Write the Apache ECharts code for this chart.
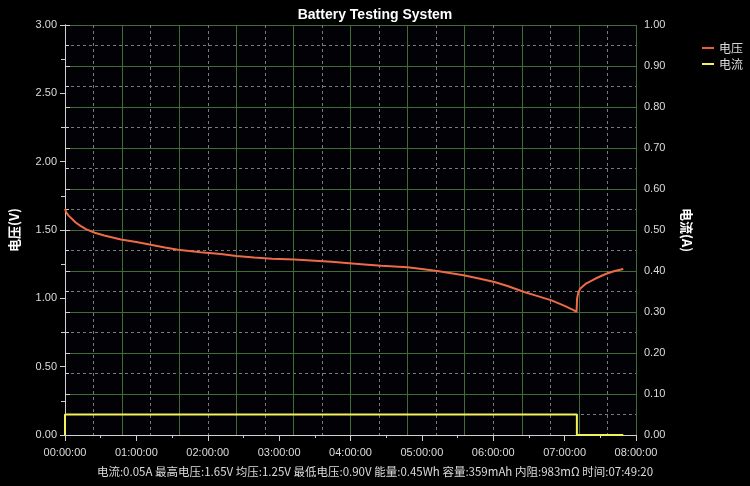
<!DOCTYPE html>
<html><head><meta charset="utf-8">
<script src="https://cdn.jsdelivr.net/npm/echarts@6/dist/echarts.min.js"></script>
<style>html,body{margin:0;padding:0;background:#000;}#c{width:750px;height:486px;}</style>
</head><body><div id="c"></div>
<script>
// time in minutes
const voltTime = [0,1,3,6,9,13,18,25,33,47,60,72,84,95,114,131,144,159,174,193,210,224,249,266,288,300,313,335,348,361,372,386,396,409,420,428,430,430.5,431.4,433,438,446,455,462,469.33];
const voltVals = [1.655,1.63,1.605,1.58,1.555,1.53,1.505,1.48,1.46,1.43,1.412,1.392,1.372,1.355,1.337,1.324,1.31,1.299,1.29,1.284,1.275,1.267,1.25,1.238,1.228,1.215,1.20,1.169,1.145,1.12,1.09,1.046,1.02,0.985,0.945,0.912,0.90,1.0,1.04,1.07,1.108,1.145,1.18,1.20,1.215];
const currTime = [0,0,430.3,430.3,469.33];
const currVals = [0,0.05,0.05,0,0];
const title = 'Battery Testing System';
const summary = '电流:0.05A 最高电压:1.65V 均压:1.25V 最低电压:0.90V 能量:0.45Wh 容量:359mAh 内阻:983mΩ 时间:07:49:20';

const pad = n => String(n).padStart(2,'0');
const fmt = m => pad(Math.floor(m/60)) + ':' + pad(Math.round(m%60)) + ':00';
const txt = '#dcdcdc';
const font = 'Liberation Sans, Arial, sans-serif';
const gridGreen = '#3e6e34';
const gridDash = '#7a7a7a';

const chart = echarts.init(document.getElementById('c'));
chart.setOption({
  backgroundColor: '#000',
  animation: false,
  title: {text: title, left: 'center', top: 3, textStyle: {color: '#fff', fontSize: 14, fontWeight: 'bold', fontFamily: font}},
  legend: {orient: 'vertical', left: 697, top: 37, itemWidth: 12, itemHeight: 2, itemGap: 4,
    textStyle: {color: txt, fontSize: 12, fontFamily: 'Noto Sans CJK SC'},
    data: [{name:'电压', icon:'rect'}, {name:'电流', icon:'rect'}]},
  grid: {left: 64, right: 114, top: 25, bottom: 51, show: true, backgroundColor: '#010106', borderWidth: 0},
  xAxis: [
    {type: 'value', min: 0, max: 480, interval: 60, position: 'bottom', offset: 4,
      axisLine: {show: true, lineStyle: {color: '#d0d0d0', width: 1}},
      axisTick: {show: true, length: 6, lineStyle: {color: '#d0d0d0'}},
      minorTick: {show: true, splitNumber: 2, length: 3, lineStyle: {color: '#d0d0d0'}},
      axisLabel: {color: txt, fontSize: 11, fontFamily: font, margin: 8, formatter: v => fmt(v)},
      splitLine: {show: false}},
    {type: 'value', min: 0, max: 480, interval: 48, position: 'top',
      axisLine: {show: false}, axisTick: {show: false}, axisLabel: {show: false},
      splitLine: {show: true, lineStyle: {color: gridGreen, width: 1}},
      minorTick: {show: false, splitNumber: 2},
      minorSplitLine: {show: true, lineStyle: {color: gridDash, type: [3,3], width: 1}}}
  ],
  yAxis: [
    {type: 'value', min: 0, max: 3, interval: 0.5, position: 'left', offset: 4,
      name: '电压(V)', nameLocation: 'middle', nameRotate: 90, nameGap: 40,
      nameTextStyle: {color: '#fff', fontSize: 13, fontWeight: 'bold', fontFamily: 'Noto Sans CJK SC'},
      axisLine: {show: true, lineStyle: {color: '#d0d0d0'}},
      axisTick: {show: true, length: 5, lineStyle: {color: '#d0d0d0'}},
      minorTick: {show: true, splitNumber: 2, length: 4, lineStyle: {color: '#d0d0d0'}},
      axisLabel: {color: txt, fontSize: 11, fontFamily: font, margin: 4, formatter: v => v.toFixed(2)},
      splitLine: {show: false}, minorSplitLine: {show: false}},
    {type: 'value', min: 0, max: 1, interval: 0.1, position: 'right', offset: 4,
      name: '电流(A)', nameLocation: 'middle', nameRotate: -90, nameGap: 40,
      nameTextStyle: {color: '#fff', fontSize: 13, fontWeight: 'bold', fontFamily: 'Noto Sans CJK SC'},
      axisLine: {show: true, lineStyle: {color: '#d0d0d0'}},
      axisTick: {show: true, length: 5, lineStyle: {color: '#d0d0d0'}},
      minorTick: {show: true, splitNumber: 2, length: 4, lineStyle: {color: '#d0d0d0'}},
      axisLabel: {color: txt, fontSize: 11, fontFamily: font, margin: 4, formatter: v => v.toFixed(2)},
      splitLine: {show: false}, minorSplitLine: {show: false}},
    {type: 'value', min: 0, max: 10, interval: 1, position: 'left',
      axisLine: {show: false}, axisTick: {show: false}, axisLabel: {show: false},
      splitLine: {show: true, lineStyle: {color: gridGreen, width: 1}},
      minorTick: {show: false, splitNumber: 2},
      minorSplitLine: {show: true, lineStyle: {color: gridDash, type: [3,3], width: 1}}}
  ],
  series: [
    {name: '电压', type: 'line', xAxisIndex: 0, yAxisIndex: 0, showSymbol: false, symbol: 'none',
      color: '#ee5a3c', lineStyle: {width: 2, color: '#ee6a48'},
      data: voltTime.map((t,i) => [t, voltVals[i]])},
    {name: '电流', type: 'line', xAxisIndex: 0, yAxisIndex: 1, showSymbol: false, symbol: 'none',
      color: '#f2f25a', lineStyle: {width: 2, color: '#f2f25a'},
      data: currTime.map((t,i) => [t, currVals[i]])}
  ],
  graphic: [{type: 'text', left: 'center', top: 466,
    style: {text: summary, fill: txt, fontSize: 11.5, fontFamily: 'Noto Sans CJK SC'}}]
});
</script></body></html>
